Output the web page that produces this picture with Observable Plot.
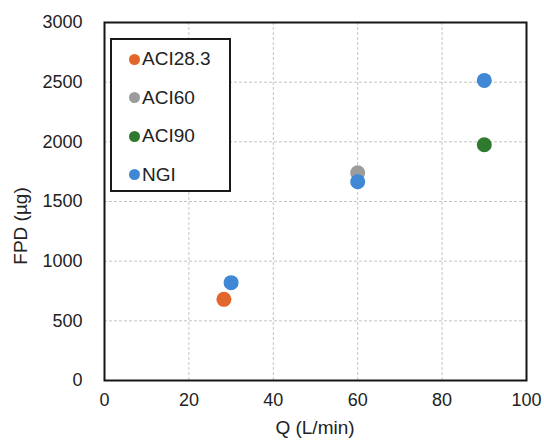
<!DOCTYPE html>
<html><head><meta charset="utf-8">
<script src="https://cdn.jsdelivr.net/npm/d3@7"></script>
<script src="https://cdn.jsdelivr.net/npm/@observablehq/plot@0.6"></script>
<style>
body{margin:0;background:#fff;font-family:"Liberation Sans",Arial,sans-serif;}
#wrap{position:relative;width:544px;height:441px;}
#legend{position:absolute;left:110px;top:38px;width:117px;height:150px;border:2px solid #1a1a1a;background:#fff;box-sizing:content-box;}
.item{position:absolute;left:17px;height:20px;display:flex;align-items:center;font-size:19px;color:#222;}
.sw{width:11px;height:11px;border-radius:50%;margin-right:2px;}
.lab{position:absolute;font-size:19px;color:#222;white-space:nowrap;line-height:1;}
#xlab{left:315px;top:418px;transform:translateX(-50%);}
#ylab{left:20px;top:226px;transform:translate(-50%,-50%) rotate(-90deg);}
</style></head><body><div id="wrap"></div>
<script>
const seriesNames = ["ACI28.3", "ACI60", "ACI90", "NGI"];
const seriesColors = ["#E2662A", "#9C9C9C", "#2F7A2E", "#4088D5"];
const seriesQ = [[28.3], [60], [90], [30, 60, 90]];
const seriesFPD = [[680], [1740], [1975], [820, 1665, 2515]];
const xTicks = [0, 20, 40, 60, 80, 100];
const yTicks = [0, 500, 1000, 1500, 2000, 2500, 3000];
const xLabel = "Q (L/min)";
const yLabel = "FPD (µg)";

const points = seriesNames.flatMap((s, i) => seriesQ[i].map((q, j) => ({series: s, q, fpd: seriesFPD[i][j]})));

const chart = Plot.plot({
  width: 544, height: 441,
  marginLeft: 104, marginRight: 18, marginTop: 22, marginBottom: 61,
  style: {fontFamily: "Liberation Sans, Arial, sans-serif", fontSize: "18px", color: "#222", background: "#fff"},
  x: {domain: [0, 100]},
  y: {domain: [0, 3000]},
  color: {domain: seriesNames, range: seriesColors},
  marks: [
    Plot.gridX(xTicks, {stroke: "#c4c4c4", strokeOpacity: 1, strokeDasharray: "3,2"}),
    Plot.gridY(yTicks, {stroke: "#c4c4c4", strokeOpacity: 1, strokeDasharray: "3,2"}),
    Plot.frame({stroke: "#151515", strokeWidth: 2}),
    Plot.axisX(xTicks, {tickSize: 0, tickPadding: 13, label: null, tickFormat: d => String(d), fontSize: 18}),
    Plot.axisY(yTicks, {tickSize: 0, tickPadding: 22, label: null, tickFormat: d => String(d), fontSize: 18}),
    Plot.dot(points, {x: "q", y: "fpd", fill: "series", r: 7.5, stroke: "none"})
  ]
});
const wrap = document.getElementById("wrap");
wrap.appendChild(chart);

const xl = document.createElement("div");
xl.id = "xlab"; xl.className = "lab"; xl.textContent = xLabel;
wrap.appendChild(xl);
const yl = document.createElement("div");
yl.id = "ylab"; yl.className = "lab"; yl.textContent = yLabel;
wrap.appendChild(yl);

const legend = document.createElement("div");
legend.id = "legend";
seriesNames.forEach((s, i) => {
  const it = document.createElement("div");
  it.className = "item";
  it.style.top = (9 + i * 38.5) + "px";
  const sw = document.createElement("span");
  sw.className = "sw";
  sw.style.background = seriesColors[i];
  it.appendChild(sw);
  it.appendChild(document.createTextNode(s));
  legend.appendChild(it);
});
wrap.appendChild(legend);
</script></body></html>
